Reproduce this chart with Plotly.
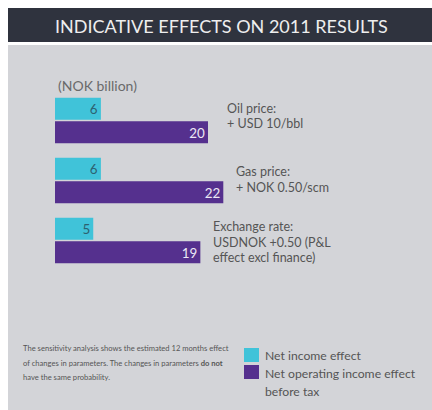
import plotly.graph_objects as go

W, H = 432, 410

# ---- data ----
categories = ["Oil price", "Gas price", "Exchange rate"]
category_labels = [
    ["Oil price:", "+ USD 10/bbl"],
    ["Gas price:", "+ NOK 0.50/scm"],
    ["Exchange rate:", "USDNOK +0.50 (P&L", "effect excl finance)"],
]
net_income = [6, 6, 5]
net_operating_income = [20, 22, 19]
series_names = ["Net income effect", "Net operating income effect", "before tax"]
title_text = "INDICATIVE EFFECTS ON 2011 RESULTS"
unit_text = "(NOK billion)"
footnote_lines = [
    "The sensitivity analysis shows the estimated 12 months effect",
    "of changes in parameters. The changes in parameters <b>do not</b>",
    "have the same probability.",
]

CYAN = "#40c3d9"
PURPLE = "#55308e"
HEADER = "#2f333e"
PANEL = "#d3d4d8"
TEXT = "#555555"
FONT = "Lato"

def px(x):
    return x / W

def py(y):
    return 1 - y / H

# plot area in pixels
x0, x1 = 55, 432
y_top, y_bot = 90.5, 270.5
ppu = 7.65  # pixels per unit

fig = go.Figure()
fig.add_trace(go.Bar(
    y=categories, x=net_income, orientation="h", name=series_names[0],
    marker=dict(color=CYAN, line=dict(width=0)),
    text=[str(v) for v in net_income], textposition="inside",
    insidetextanchor="end", textangle=0,
    textfont=dict(family=FONT, size=15, color="#2d6170"),
    hoverinfo="skip",
))
fig.add_trace(go.Bar(
    y=categories, x=net_operating_income, orientation="h", name=series_names[1],
    marker=dict(color=PURPLE, line=dict(width=0)),
    text=[str(v) for v in net_operating_income], textposition="inside",
    insidetextanchor="end", textangle=0,
    textfont=dict(family=FONT, size=15, color="#ece8f4"),
    hoverinfo="skip",
))

shapes = [
    dict(type="rect", xref="paper", yref="paper", x0=px(8), x1=px(432),
         y0=py(410), y1=py(45), fillcolor=PANEL, line=dict(width=0), layer="below"),
    dict(type="rect", xref="paper", yref="paper", x0=px(8), x1=px(432),
         y0=py(42), y1=py(8), fillcolor=HEADER, line=dict(width=0), layer="below"),
    # legend swatches
    dict(type="rect", xref="paper", yref="paper", x0=px(244), x1=px(259),
         y0=py(362), y1=py(348), fillcolor=CYAN, line=dict(width=0)),
    dict(type="rect", xref="paper", yref="paper", x0=px(244), x1=px(259),
         y0=py(379), y1=py(365), fillcolor=PURPLE, line=dict(width=0)),
]

ann = []
def add_text(text, x, y, size, color=TEXT, xanchor="left"):
    ann.append(dict(text=text, x=px(x), y=py(y), xref="paper", yref="paper",
                    xanchor=xanchor, yanchor="middle", showarrow=False,
                    font=dict(family=FONT, size=size, color=color)))

add_text(title_text, 221.5, 26, 18, color="#eeeeee", xanchor="center")
add_text(unit_text, 56, 86, 14, color="#6a6a6a")

label_pos = [(225, [108, 123]), (234, [172, 188]), (211, [226, 242, 257])]
for lines, (lx, ys) in zip(category_labels, label_pos):
    for t, yy in zip(lines, ys):
        add_text(t, lx, yy, 12.5)

for t, yy in zip(footnote_lines, [348, 363, 377]):
    add_text(t, 21, yy, 7.6, color="#555555")

add_text(series_names[0], 263, 355, 12.2)
add_text(series_names[1], 263, 373, 12.2)
add_text(series_names[2], 263, 391, 12.2)

fig.update_layout(
    width=W, height=H,
    margin=dict(l=0, r=0, t=0, b=0),
    paper_bgcolor="white", plot_bgcolor="rgba(0,0,0,0)",
    barmode="group", bargap=0.217, bargroupgap=0.06,
    showlegend=False,
    shapes=shapes, annotations=ann,
    xaxis=dict(domain=[px(x0), px(x1)], range=[0, (x1 - x0) / ppu],
               visible=False, fixedrange=True),
    yaxis=dict(domain=[py(y_bot), py(y_top)], autorange="reversed",
               visible=False, fixedrange=True),
)

fig.write_html(
    "out.html",
    config={"displayModeBar": False},
    post_script="document.body.style.margin='0';document.body.style.overflow='hidden';",
)
